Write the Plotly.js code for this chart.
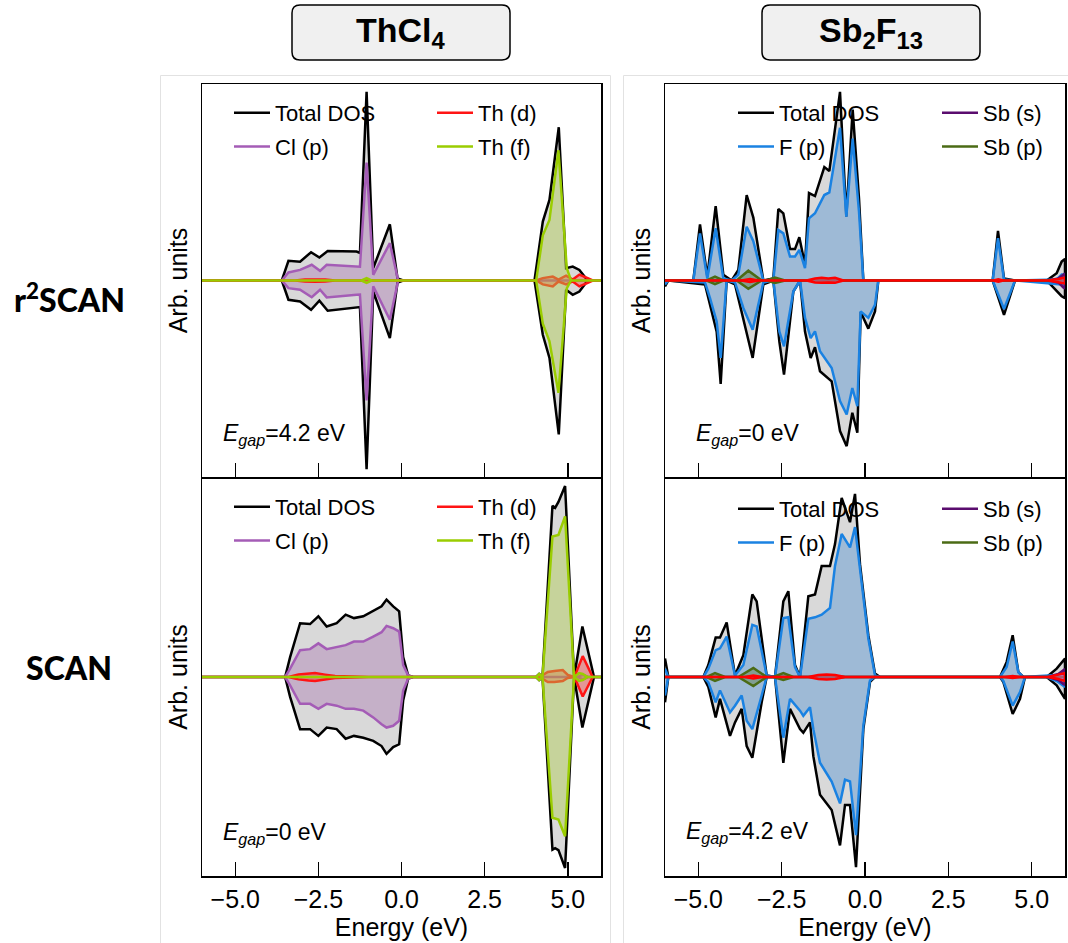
<!DOCTYPE html>
<html><head><meta charset="utf-8">
<script src="https://cdn.plot.ly/plotly-3.0.1.min.js"></script>
<style>html,body{margin:0;padding:0;background:#fff}</style>
</head><body><div id="chart" style="width:1068px;height:943px"></div>
<script>
// ---------- labels ----------
const xTickVals = [-5, -2.5, 0, 2.5, 5];
const xTickText = ['\u22125.0', '\u22122.5', '0.0', '2.5', '5.0'];
const columnTitles = ['ThCl<sub>4</sub>', 'Sb<sub>2</sub>F<sub>13</sub>'];
const rowLabels = ['r<sup>2</sup>SCAN', 'SCAN'];
const gapValues = {TL: '4.2', TR: '0', BL: '0', BR: '4.2'};
const namesThCl4 = ['Total DOS', 'Cl (p)', 'Th (d)', 'Th (f)'];
const namesSbF = ['Total DOS', 'F (p)', 'Sb (s)', 'Sb (p)'];

// ---------- ThCl4, r2SCAN (top-left) ----------
const A_tot_E  = [-6, -3.6, -3.4, -3.05, -2.72, -2.47, -2.22, -1.35, -1.25, -1.05, -0.85, -0.35, -0.12, 0.05, 4.0, 4.25, 4.45, 4.73, 4.95, 5.15, 5.35, 5.6, 6];
const A_tot_up = [0, 0, 1.0, 0.96, 1.44, 1.17, 1.5, 1.47, 1.4, 9.6, 0.63, 2.86, 0.1, 0, 0, 3.0, 4.1, 7.8, 0.63, 0.71, 0.54, 0, 0];
const A_tot_dn = [0, 0, -0.98, -1.07, -1.49, -1.03, -1.54, -1.37, -1.35, -9.6, -0.56, -2.93, -0.1, 0, 0, -2.76, -3.94, -7.83, -0.47, -0.73, -0.56, 0, 0];
const A_clp_E  = [-6, -3.6, -3.4, -3.05, -2.7, -2.45, -2.25, -1.35, -1.25, -1.05, -0.85, -0.35, -0.1, 6];
const A_clp_up = [0, 0, 0.41, 0.54, 0.8, 0.49, 0.8, 0.71, 0.7, 6.0, 0.29, 1.9, 0, 0];
const A_clp_dn = [0, 0, -0.39, -0.47, -0.85, -0.47, -0.86, -0.73, -0.72, -6.1, -0.3, -2.0, 0, 0];
const A_thd_E  = [-6, -3.2, -2.9, -2.6, -2.3, -2.0, 4.05, 4.25, 4.55, 4.72, 4.95, 5.15, 5.35, 5.6, 5.75, 6];
const A_thd_up = [0, 0, 0.05, 0.06, 0.05, 0, 0, 0.12, 0.2, 0.05, 0.25, 0.05, 0.3, 0.12, 0, 0];
const A_thd_dn = [0, 0, -0.05, -0.06, -0.05, 0, 0, -0.2, -0.3, -0.05, -0.2, -0.05, -0.3, -0.12, 0, 0];
const A_thf_E  = [-6, -1.2, -1.05, -0.9, 4.05, 4.25, 4.45, 4.72, 4.97, 5.1, 6];
const A_thf_up = [0, 0, 0.12, 0, 0, 2.3, 3.08, 6.63, 0.63, 0, 0];
const A_thf_dn = [0, 0, -0.12, 0, 0, -2.2, -3.1, -5.72, -0.4, 0, 0];

// ---------- ThCl4, SCAN (bottom-left) ----------
const B_tot_E  = [-6, -3.5, -3.35, -3.05, -2.75, -2.5, -2.25, -1.95, -1.68, -1.43, -1.15, -0.85, -0.6, -0.45, -0.25, -0.07, 0.05, 0.2, 0.35, 4.05, 4.14, 4.24, 4.54, 4.62, 4.72, 4.92, 5.19, 5.44, 5.79, 6];
const B_tot_up = [0, 0, 1.0, 2.7, 2.66, 3.05, 2.54, 2.7, 3.13, 2.96, 3.05, 3.3, 3.55, 3.89, 3.55, 3.3, 1.0, 0.08, 0, 0, 0.15, 0, 8.6, 8.5, 8.8, 9.6, 0, 2.54, 0, 0];
const B_tot_dn = [0, 0, -1.0, -2.62, -2.62, -2.96, -2.54, -2.62, -3.1, -2.96, -3.05, -3.21, -3.47, -3.86, -3.52, -3.38, -1.18, -0.08, 0, 0, -0.15, 0, -8.68, -8.6, -8.7, -9.6, 0, -2.54, 0, 0];
const B_clp_E  = [-6, -3.5, -3.35, -3.05, -2.75, -2.5, -2.25, -1.95, -1.68, -1.43, -1.15, -0.85, -0.6, -0.45, -0.25, -0.07, 0.05, 0.2, 0.35, 5.3, 5.45, 5.6, 6];
const B_clp_up = [0, 0, 0.42, 1.35, 1.4, 1.69, 1.4, 1.52, 1.6, 1.78, 1.78, 2.03, 2.25, 2.57, 2.45, 2.28, 0.6, 0.08, 0, 0, 0.12, 0, 0];
const B_clp_dn = [0, 0, -0.42, -1.35, -1.35, -1.6, -1.35, -1.44, -1.6, -1.6, -1.69, -2.03, -2.37, -2.54, -2.45, -2.2, -0.68, -0.08, 0, 0, -0.12, 0, 0];
const B_thd_E  = [-6, -3.4, -3.1, -2.8, -2.6, -2.3, -2.0, -1.0, 4.05, 4.2, 4.4, 4.6, 4.85, 5.0, 5.2, 5.45, 5.75, 6];
const B_thd_up = [0, 0, 0.12, 0.18, 0.2, 0.12, 0.05, 0, 0, 0.05, 0.25, 0.3, 0.35, 0.1, 0, 1.05, 0, 0];
const B_thd_dn = [0, 0, -0.12, -0.18, -0.2, -0.12, -0.05, 0, 0, -0.05, -0.25, -0.25, -0.2, -0.05, 0, -0.98, 0, 0];
const B_thf_E  = [-6, 4.05, 4.14, 4.24, 4.54, 4.72, 4.92, 5.19, 5.34, 5.45, 5.6, 6];
const B_thf_up = [0, 0, 0.15, 0, 7.06, 7.14, 8.07, 0, 0.2, 0.15, 0, 0];
const B_thf_dn = [0, 0, -0.15, 0, -7.07, -7.16, -8.0, 0, -0.2, -0.15, 0, 0];

// ---------- Sb2F13, r2SCAN (top-right) ----------
const C_tot_Eup = [-6, -5.15, -4.95, -4.73, -4.48, -4.25, -4.0, -3.8, -3.55, -3.35, -3.05, -2.75, -2.6, -2.45, -2.25, -2.1, -1.97, -1.8, -1.68, -1.5, -1.22, -1.07, -0.75, -0.56, -0.37, -0.18, -0.05, 3.83, 3.99, 4.17, 4.5, 5.45, 5.75, 5.9, 6];
const C_tot_up  = [0, 0, 2.86, 0.2, 3.79, 0.29, 0, 0.54, 4.35, 3.2, 0, 0.1, 3.64, 3.42, 1.6, 1.6, 2.2, 0.8, 4.45, 4.3, 5.77, 5.57, 9.6, 3.25, 8.7, 4.18, 0, 0, 2.52, 0.1, 0, 0, 0.37, 0.96, 1.1];
const C_tot_Edn = [-6, -5.9, -4.8, -4.65, -4.45, -4.33, -4.15, -3.9, -3.65, -3.37, -3.05, -2.75, -2.57, -2.43, -2.15, -1.95, -1.8, -1.63, -1.5, -1.35, -1.0, -0.75, -0.55, -0.38, -0.23, -0.13, 0.1, 0.3, 0.4, 3.83, 4.17, 4.5, 5.45, 5.9, 6];
const C_tot_dn  = [-0.3, 0, -0.2, -1.24, -2.6, -5.26, 0, -0.2, -1.9, -3.94, -0.2, 0, -3.1, -4.79, -0.56, 0, -2.6, -3.94, -3.4, -4.62, -5.13, -7.66, -8.43, -6.73, -7.75, -1.6, -2.45, -1.57, 0, 0, -1.75, 0, 0, -0.8, -0.9];
const C_fp_Eup  = [-6, -5.15, -4.95, -4.73, -4.48, -4.25, -4.0, -3.8, -3.55, -3.35, -3.05, -2.75, -2.6, -2.45, -2.25, -2.1, -1.97, -1.8, -1.68, -1.5, -1.22, -1.07, -0.75, -0.56, -0.37, -0.18, -0.05, 3.83, 3.99, 4.17, 4.5, 5.75, 5.9, 6];
const C_fp_up   = [0, 0, 2.4, 0.1, 2.66, 0.1, 0, 0.3, 2.74, 2.0, 0, 0, 2.57, 2.4, 1.22, 1.22, 1.56, 0.63, 3.16, 3.42, 4.35, 4.48, 7.77, 3.25, 7.22, 3.5, 0, 0, 2.15, 0.05, 0, 0.05, 0.3, 0.3];
const C_fp_Edn  = [-6, -5.9, -4.8, -4.65, -4.45, -4.33, -4.15, -3.9, -3.65, -3.37, -3.05, -2.75, -2.57, -2.43, -2.15, -1.95, -1.8, -1.63, -1.5, -1.35, -1.0, -0.75, -0.55, -0.38, -0.23, -0.13, 0.1, 0.3, 0.4, 3.83, 4.17, 4.5, 5.9, 6];
const C_fp_dn   = [-0.2, 0, -0.1, -0.9, -2.08, -3.94, 0, -0.1, -1.4, -2.5, -0.1, 0, -2.59, -3.35, -0.56, 0, -1.9, -2.93, -2.59, -3.6, -4.45, -6.14, -6.82, -5.47, -6.4, -1.57, -1.9, -1.24, 0, 0, -1.45, 0, -0.2, -0.2];
const C_sbs_E   = [-6, 5.5, 5.8, 5.95, 6];
const C_sbs_up  = [0, 0, 0.1, 0.3, 0.35];
const C_sbs_dn  = [0, 0, -0.1, -0.35, -0.4];
const C_sbp_E   = [-6, -4.75, -4.5, -4.25, -3.85, -3.5, -3.1, -2.95, -2.7, -2.4, -1.6, -1.26, -0.9, 6];
const C_sbp_up  = [0, 0, 0.2, 0, 0, 0.5, 0, 0, 0.15, 0, 0, 0.08, 0, 0];
const C_sbp_dn  = [0, 0, -0.18, 0, 0, -0.42, 0, 0, -0.12, 0, 0, -0.08, 0, 0];
const C_oth_E   = [-6, -3.7, -3.45, -3.2, -1.75, -1.5, -1.3, -1.1, -0.9, -0.65, 3.85, 4.0, 4.15, 5.5, 5.8, 6];
const C_oth_up  = [0, 0, 0.08, 0, 0, 0.1, 0.14, 0.1, 0.14, 0, 0, 0.06, 0, 0, 0.08, 0.15];
const C_oth_dn  = [0, 0, -0.08, 0, 0, -0.1, -0.12, -0.1, -0.12, 0, 0, -0.06, 0, 0, -0.08, -0.15];

// ---------- Sb2F13, SCAN (bottom-right) ----------
const D_tot_Eup = [-6, -5.9, -4.85, -4.7, -4.48, -4.35, -4.15, -3.9, -3.65, -3.38, -3.25, -2.95, -2.7, -2.45, -2.3, -2.1, -1.95, -1.7, -1.5, -1.3, -1.05, -0.9, -0.7, -0.45, -0.3, -0.15, 0.1, 0.3, 0.45, 4.05, 4.25, 4.43, 4.6, 4.75, 5.45, 5.75, 6];
const D_tot_up  = [0.93, 0, 0, 0.6, 1.98, 1.98, 2.74, 0.08, 1.1, 4.15, 3.8, 0.08, 0, 3.8, 4.31, 0.6, 0, 4.06, 4.15, 5.58, 5.58, 6.68, 9.0, 7.78, 9.2, 5.67, 2.1, 0.17, 0, 0, 0.76, 2.1, 0.25, 0, 0, 0.42, 0.93];
const D_tot_Edn = [-6, -5.9, -4.85, -4.7, -4.48, -4.35, -4.05, -3.9, -3.7, -3.55, -3.38, -3.1, -2.95, -2.7, -2.45, -2.25, -1.95, -1.85, -1.65, -1.55, -1.35, -1.0, -0.75, -0.6, -0.45, -0.27, -0.05, 0.15, 0.3, 4.05, 4.15, 4.43, 4.65, 4.8, 5.45, 5.75, 6];
const D_tot_dn  = [-1.27, 0, 0, -0.5, -2.03, -1.1, -2.96, -2.28, -1.6, -3.47, -4.06, -1.27, 0, 0, -4.31, -1.6, -2.62, -2.8, -2.28, -3.98, -5.92, -6.68, -8.46, -6.43, -6.43, -9.56, -2.62, -0.25, 0, 0, -0.25, -1.86, -1.1, 0, 0, -0.42, -1.1];
const D_fp_Eup  = [-6, -5.9, -4.85, -4.7, -4.48, -4.35, -4.15, -3.9, -3.65, -3.38, -3.25, -2.95, -2.7, -2.45, -2.3, -2.1, -1.95, -1.7, -1.5, -1.3, -1.05, -0.9, -0.7, -0.45, -0.3, -0.15, 0.1, 0.3, 0.45, 4.05, 4.25, 4.43, 4.6, 4.75, 5.75, 6];
const D_fp_up   = [0.42, 0, 0, 0.42, 1.35, 1.44, 2.03, 0.08, 0.6, 2.62, 2.54, 0.08, 0, 2.96, 3.0, 0.5, 0, 2.93, 3.0, 3.13, 3.47, 5.58, 7.19, 6.51, 7.53, 5.33, 1.95, 0.08, 0, 0, 0.5, 1.78, 0.25, 0, 0.1, 0.3];
const D_fp_Edn  = [-6, -5.9, -4.85, -4.7, -4.48, -4.35, -4.05, -3.9, -3.7, -3.55, -3.38, -3.1, -2.95, -2.7, -2.45, -2.25, -1.95, -1.85, -1.65, -1.55, -1.35, -1.0, -0.75, -0.6, -0.45, -0.27, -0.05, 0.15, 0.3, 4.05, 4.15, 4.43, 4.65, 4.8, 5.45, 5.75, 6];
const D_fp_dn   = [-0.93, 0, 0, -0.27, -1.27, -0.68, -1.78, -1.44, -0.93, -2.2, -2.62, -0.93, 0, 0, -3.05, -1.1, -1.69, -1.95, -1.52, -2.62, -4.31, -5.25, -6.35, -5.16, -5.25, -7.95, -2.45, -0.17, 0, 0, -0.2, -1.44, -0.76, 0, 0, -0.2, -0.5];
const D_sbs_E   = [-6, 5.5, 5.8, 5.95, 6];
const D_sbs_up  = [0, 0, 0.15, 0.35, 0.4];
const D_sbs_dn  = [0, 0, -0.15, -0.35, -0.4];
const D_sbp_E   = [-6, -4.75, -4.5, -4.2, -3.8, -3.35, -2.95, -2.75, -2.45, -2.15, -1.6, -1.1, -0.6, 6];
const D_sbp_up  = [0, 0, 0.2, 0, 0, 0.45, 0, 0, 0.2, 0, 0, 0.07, 0, 0];
const D_sbp_dn  = [0, 0, -0.2, 0, 0, -0.45, 0, 0, -0.15, 0, 0, -0.07, 0, 0];
const D_oth_E   = [-6, -3.6, -3.35, -3.1, -1.7, -1.4, -1.15, -0.9, -0.6, 4.2, 4.43, 4.65, 5.5, 5.8, 6];
const D_oth_up  = [0, 0, 0.08, 0, 0, 0.1, 0.12, 0.1, 0, 0, 0.05, 0, 0, 0.1, 0.2];
const D_oth_dn  = [0, 0, -0.08, 0, 0, -0.1, -0.12, -0.1, 0, 0, -0.05, 0, 0, -0.1, -0.2];

// ---------- styles ----------
const ST = {
  tot: {line: '#000000', fill: 'rgba(0,0,0,0.15)'},
  clp: {line: '#a45cb6', fill: 'rgba(160,100,170,0.35)'},
  thd: {line: '#ff1414', fill: 'rgba(255,0,0,0.3)'},
  thf: {line: '#9acd00', fill: 'rgba(175,205,80,0.45)'},
  fp:  {line: '#1a82e2', fill: 'rgba(100,155,212,0.5)'},
  sbs: {line: '#5a0c6e', fill: 'rgba(90,12,110,0.3)'},
  sbp: {line: '#4b6b15', fill: 'rgba(75,107,21,0.35)'},
  oth: {line: '#ff0000', fill: 'rgba(255,80,200,0.5)'}
};
const LW = 2.5;

const W = 1068, H = 943;
const px = v => v / W;
const py = v => 1 - v / H;
const colL = [202, 601], colR = [665, 1065];
const rowT = [84, 477], rowB = [478, 876];

const traces = [];
let gid = 0;
function addSeries(xa, ya, name, st, Eu, up, Ed, dn, legendId) {
  const x = Eu.concat(Ed.slice().reverse());
  const y = up.concat(dn.slice().reverse());
  traces.push({type: 'scatter', mode: 'lines', x: x, y: y, xaxis: xa, yaxis: ya,
    fill: 'toself', fillcolor: st.fill, line: {width: 0}, showlegend: false, hoverinfo: 'skip'});
  const t = {type: 'scatter', mode: 'lines', x: x, y: y, xaxis: xa, yaxis: ya,
    line: {color: st.line, width: LW}, name: name, hoverinfo: 'skip'};
  if (legendId) { t.legend = legendId; t.legendgroup = 'g' + (gid++); t.showlegend = true; }
  else { t.showlegend = false; }
  traces.push(t);
}

// top-left
addSeries('x', 'y', namesThCl4[0], ST.tot, A_tot_E, A_tot_up, A_tot_E, A_tot_dn, 'legend');
addSeries('x', 'y', namesThCl4[1], ST.clp, A_clp_E, A_clp_up, A_clp_E, A_clp_dn, 'legend');
addSeries('x', 'y', namesThCl4[2], ST.thd, A_thd_E, A_thd_up, A_thd_E, A_thd_dn, 'legend2');
addSeries('x', 'y', namesThCl4[3], ST.thf, A_thf_E, A_thf_up, A_thf_E, A_thf_dn, 'legend2');
// bottom-left
addSeries('x3', 'y3', namesThCl4[0], ST.tot, B_tot_E, B_tot_up, B_tot_E, B_tot_dn, 'legend3');
addSeries('x3', 'y3', namesThCl4[1], ST.clp, B_clp_E, B_clp_up, B_clp_E, B_clp_dn, 'legend3');
addSeries('x3', 'y3', namesThCl4[2], ST.thd, B_thd_E, B_thd_up, B_thd_E, B_thd_dn, 'legend4');
addSeries('x3', 'y3', namesThCl4[3], ST.thf, B_thf_E, B_thf_up, B_thf_E, B_thf_dn, 'legend4');
// top-right
addSeries('x2', 'y2', namesSbF[0], ST.tot, C_tot_Eup, C_tot_up, C_tot_Edn, C_tot_dn, 'legend5');
addSeries('x2', 'y2', namesSbF[1], ST.fp, C_fp_Eup, C_fp_up, C_fp_Edn, C_fp_dn, 'legend5');
addSeries('x2', 'y2', namesSbF[2], ST.sbs, C_sbs_E, C_sbs_up, C_sbs_E, C_sbs_dn, 'legend6');
addSeries('x2', 'y2', namesSbF[3], ST.sbp, C_sbp_E, C_sbp_up, C_sbp_E, C_sbp_dn, 'legend6');
addSeries('x2', 'y2', '', ST.oth, C_oth_E, C_oth_up, C_oth_E, C_oth_dn, null);
// bottom-right
addSeries('x4', 'y4', namesSbF[0], ST.tot, D_tot_Eup, D_tot_up, D_tot_Edn, D_tot_dn, 'legend7');
addSeries('x4', 'y4', namesSbF[1], ST.fp, D_fp_Eup, D_fp_up, D_fp_Edn, D_fp_dn, 'legend7');
addSeries('x4', 'y4', namesSbF[2], ST.sbs, D_sbs_E, D_sbs_up, D_sbs_E, D_sbs_dn, 'legend8');
addSeries('x4', 'y4', namesSbF[3], ST.sbp, D_sbp_E, D_sbp_up, D_sbp_E, D_sbp_dn, 'legend8');
addSeries('x4', 'y4', '', ST.oth, D_oth_E, D_oth_up, D_oth_E, D_oth_dn, null);

const FONT = 'Liberation Sans, Arial, sans-serif';
function axX(dom, anchor, labels) {
  const a = {domain: [px(dom[0]), px(dom[1])], anchor: anchor, range: [-6, 6],
    showline: true, mirror: true, linecolor: '#000', linewidth: 1.5,
    ticks: 'inside', ticklen: 14, tickwidth: 1.5, tickcolor: '#000',
    tickmode: 'array', tickvals: xTickVals, ticktext: xTickText, showticklabels: labels,
    showgrid: false, zeroline: false, tickfont: {size: 25, color: '#000', family: FONT}, fixedrange: true};
  if (labels) a.title = {text: 'Energy (eV)', font: {size: 25, color: '#000', family: FONT}, standoff: 2};
  return a;
}
function axY(dom, anchor) {
  return {domain: [py(dom[1]), py(dom[0])], anchor: anchor, range: [-10, 10],
    showline: true, mirror: true, linecolor: '#000', linewidth: 1.5, ticks: '',
    showticklabels: false, showgrid: false, zeroline: false, fixedrange: true,
    title: {text: 'Arb. units', font: {size: 25, color: '#000', family: FONT}, standoff: 6}};
}
function leg(xText, yRow1) {
  return {x: px(xText - 46), y: py(yRow1 - 21), xanchor: 'left', yanchor: 'top',
    bgcolor: 'rgba(0,0,0,0)', borderwidth: 0, font: {size: 22, color: '#000', family: FONT},
    tracegroupgap: 2, orientation: 'v', itemwidth: 36};
}
function rrect(x0, y0, x1, y1, r) {
  const P = (a, b) => px(a) + ',' + py(b);
  return 'M' + P(x0 + r, y0) + ' L' + P(x1 - r, y0) + ' Q' + P(x1, y0) + ' ' + P(x1, y0 + r) +
    ' L' + P(x1, y1 - r) + ' Q' + P(x1, y1) + ' ' + P(x1 - r, y1) +
    ' L' + P(x0 + r, y1) + ' Q' + P(x0, y1) + ' ' + P(x0, y1 - r) +
    ' L' + P(x0, y0 + r) + ' Q' + P(x0, y0) + ' ' + P(x0 + r, y0) + ' Z';
}
function egap(v) { return '<i>E</i><sub><i>gap</i></sub>=' + v + ' eV'; }
function ann(x, y, text, font, xa, ya) {
  return {xref: 'paper', yref: 'paper', x: px(x), y: py(y), text: text, showarrow: false,
    xanchor: xa || 'center', yanchor: ya || 'middle', font: font};
}

const layout = {
  width: W, height: H, margin: {l: 0, r: 0, t: 0, b: 0},
  paper_bgcolor: '#fff', plot_bgcolor: '#fff', font: {family: FONT, color: '#000'},
  showlegend: true,
  xaxis: axX(colL, 'y', false), yaxis: axY(rowT, 'x'),
  xaxis2: axX(colR, 'y2', false), yaxis2: axY(rowT, 'x2'),
  xaxis3: axX(colL, 'y3', true), yaxis3: axY(rowB, 'x3'),
  xaxis4: axX(colR, 'y4', true), yaxis4: axY(rowB, 'x4'),
  legend: leg(275, 113), legend2: leg(478, 113),
  legend3: leg(275, 507), legend4: leg(478, 507),
  legend5: leg(779, 113), legend6: leg(983, 113),
  legend7: leg(779, 509), legend8: leg(983, 509),
  shapes: [
    {type: 'rect', xref: 'paper', yref: 'paper', x0: px(160.5), x1: px(610.5), y0: py(75.5), y1: py(960), line: {color: '#e2e2e2', width: 1}, layer: 'below'},
    {type: 'rect', xref: 'paper', yref: 'paper', x0: px(623.5), x1: px(1080), y0: py(75.5), y1: py(960), line: {color: '#e2e2e2', width: 1}, layer: 'below'},
    {type: 'path', xref: 'paper', yref: 'paper', path: rrect(292, 5, 510, 60, 8), fillcolor: '#f0f0f0', line: {color: '#000', width: 1.5}},
    {type: 'path', xref: 'paper', yref: 'paper', path: rrect(762, 5, 980, 60, 8), fillcolor: '#f0f0f0', line: {color: '#000', width: 1.5}}
  ],
  annotations: [
    ann(401, 33, columnTitles[0], {family: 'Liberation Sans Narrow, Arial Narrow, sans-serif', size: 34, weight: 700, color: '#000'}),
    ann(871, 33, columnTitles[1], {family: 'Liberation Sans Narrow, Arial Narrow, sans-serif', size: 34, weight: 700, color: '#000'}),
    ann(69, 298, rowLabels[0], {family: 'Lato, sans-serif', size: 32, weight: 900, color: '#000'}),
    ann(69, 667, rowLabels[1], {family: 'Lato, sans-serif', size: 32, weight: 900, color: '#000'}),
    ann(221, 434, egap(gapValues.TL), {family: FONT, size: 23, color: '#000'}, 'left'),
    ann(694, 434, egap(gapValues.TR), {family: FONT, size: 23, color: '#000'}, 'left'),
    ann(221, 833, egap(gapValues.BL), {family: FONT, size: 23, color: '#000'}, 'left'),
    ann(684, 832, egap(gapValues.BR), {family: FONT, size: 23, color: '#000'}, 'left')
  ]
};

Plotly.newPlot('chart', traces, layout, {staticPlot: true, displayModeBar: false});
</script>
</body></html>
